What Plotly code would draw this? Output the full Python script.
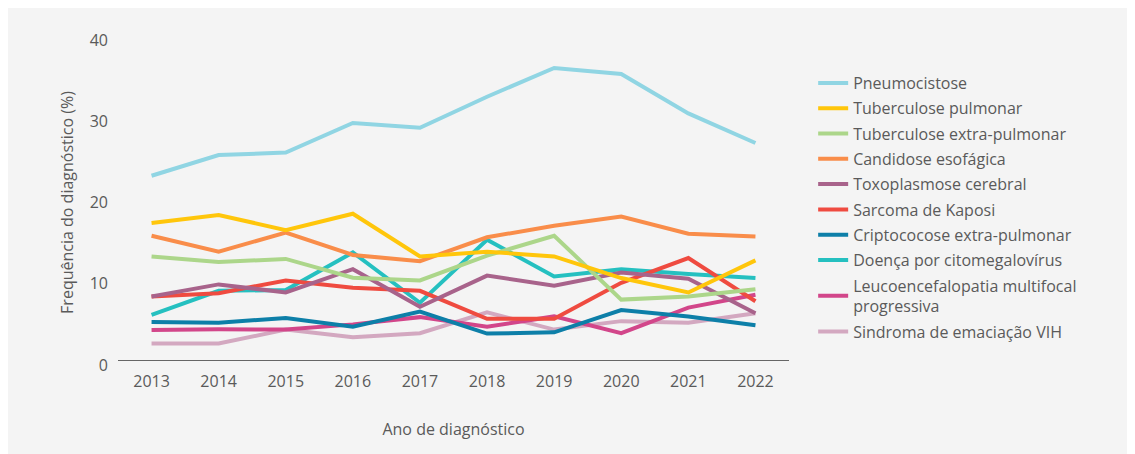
import plotly.graph_objects as go

years = ["2013", "2014", "2015", "2016", "2017", "2018", "2019", "2020", "2021", "2022"]

names = [
    "Pneumocistose",
    "Tuberculose pulmonar",
    "Tuberculose extra-pulmonar",
    "Candidose esofágica",
    "Toxoplasmose cerebral",
    "Sarcoma de Kaposi",
    "Criptococose extra-pulmonar",
    "Doença por citomegalovírus",
    "Leucoencefalopatia multifocal<br>progressiva",
    "Sindroma de emaciação VIH",
]

pneumocistose = [23.29, 25.84, 26.14, 29.78, 29.19, 33.02, 36.56, 35.82, 30.96, 27.32]
tuberculose_pulmonar = [17.49, 18.47, 16.60, 18.62, 13.36, 13.95, 13.36, 10.70, 8.93, 12.87]
tuberculose_extra = [13.36, 12.67, 13.06, 10.75, 10.41, 13.46, 15.91, 8.05, 8.44, 9.33]
candidose = [15.91, 13.95, 16.31, 13.55, 12.77, 15.72, 17.14, 18.27, 16.16, 15.82]
toxoplasmose = [8.44, 9.92, 8.93, 11.79, 7.16, 11.00, 9.77, 11.39, 10.61, 6.38]
sarcoma = [8.44, 8.84, 10.41, 9.52, 9.13, 5.69, 5.69, 10.11, 13.16, 7.85]
criptococose = [5.30, 5.20, 5.79, 4.71, 6.57, 3.87, 4.02, 6.77, 5.98, 4.90]
citomegalovirus = [6.18, 9.13, 9.23, 13.85, 7.66, 15.42, 10.90, 11.79, 11.20, 10.70]
leucoencefalopatia = [4.31, 4.41, 4.36, 5.00, 5.89, 4.71, 5.98, 3.92, 7.07, 8.64]
emaciacao = [2.64, 2.64, 4.36, 3.43, 3.92, 6.48, 4.36, 5.40, 5.20, 6.38]

series = [pneumocistose, tuberculose_pulmonar, tuberculose_extra, candidose,
          toxoplasmose, sarcoma, criptococose, citomegalovirus,
          leucoencefalopatia, emaciacao]

colors = ["#90d5e3", "#ffc60b", "#acd68a", "#f98d4a", "#a8638b",
          "#ef4b40", "#0d7fa8", "#25c0c0", "#d2468a", "#d3a8c0"]

y_ticks = [0, 10, 20, 30, 40]

TEXT = "#5a5a5a"
FONT = "Open Sans"

fig = go.Figure()
# add in reverse so the first series is drawn on top; legendrank keeps legend order
for i, (name, vals, col) in reversed(list(enumerate(zip(names, series, colors)))):
    fig.add_trace(go.Scatter(
        x=years, y=vals, name=name, mode="lines",
        legendgroup=f"g{i}", legendrank=i + 1,
        line=dict(color=col, width=4),
    ))

fig.update_layout(
    width=1127, height=446,
    paper_bgcolor="#f4f4f4", plot_bgcolor="#f4f4f4",
    margin=dict(l=110, r=346, t=32, b=88.5),
    font=dict(family=FONT, size=16, color=TEXT),
    showlegend=True,
    legend=dict(
        traceorder="grouped",
        x=1.036, xanchor="left", y=0.92, yanchor="top",
        bgcolor="rgba(0,0,0,0)", font=dict(family=FONT, size=16, color=TEXT),
        itemwidth=30, tracegroupgap=1.5,
    ),
    xaxis=dict(
        type="category", range=[-0.5, 9.5],
        anchor="free", position=0.0147,
        showline=True, linecolor="#666666", linewidth=1,
        showgrid=False, zeroline=False, ticks="",
        ticklabelstandoff=7,
        tickfont=dict(family=FONT, size=16, color=TEXT),
        title=dict(text="Ano de diagnóstico", standoff=32,
                   font=dict(family=FONT, size=16, color=TEXT)),
    ),
    yaxis=dict(
        range=[0, 40], tickvals=y_ticks,
        showline=False, showgrid=False, zeroline=False, ticks="",
        ticklabelstandoff=9,
        tickfont=dict(family=FONT, size=16, color=TEXT),
        title=dict(text="Frequência do diagnóstico (%)", standoff=12,
                   font=dict(family=FONT, size=16, color=TEXT)),
    ),
)

fig.write_html("out.html")
